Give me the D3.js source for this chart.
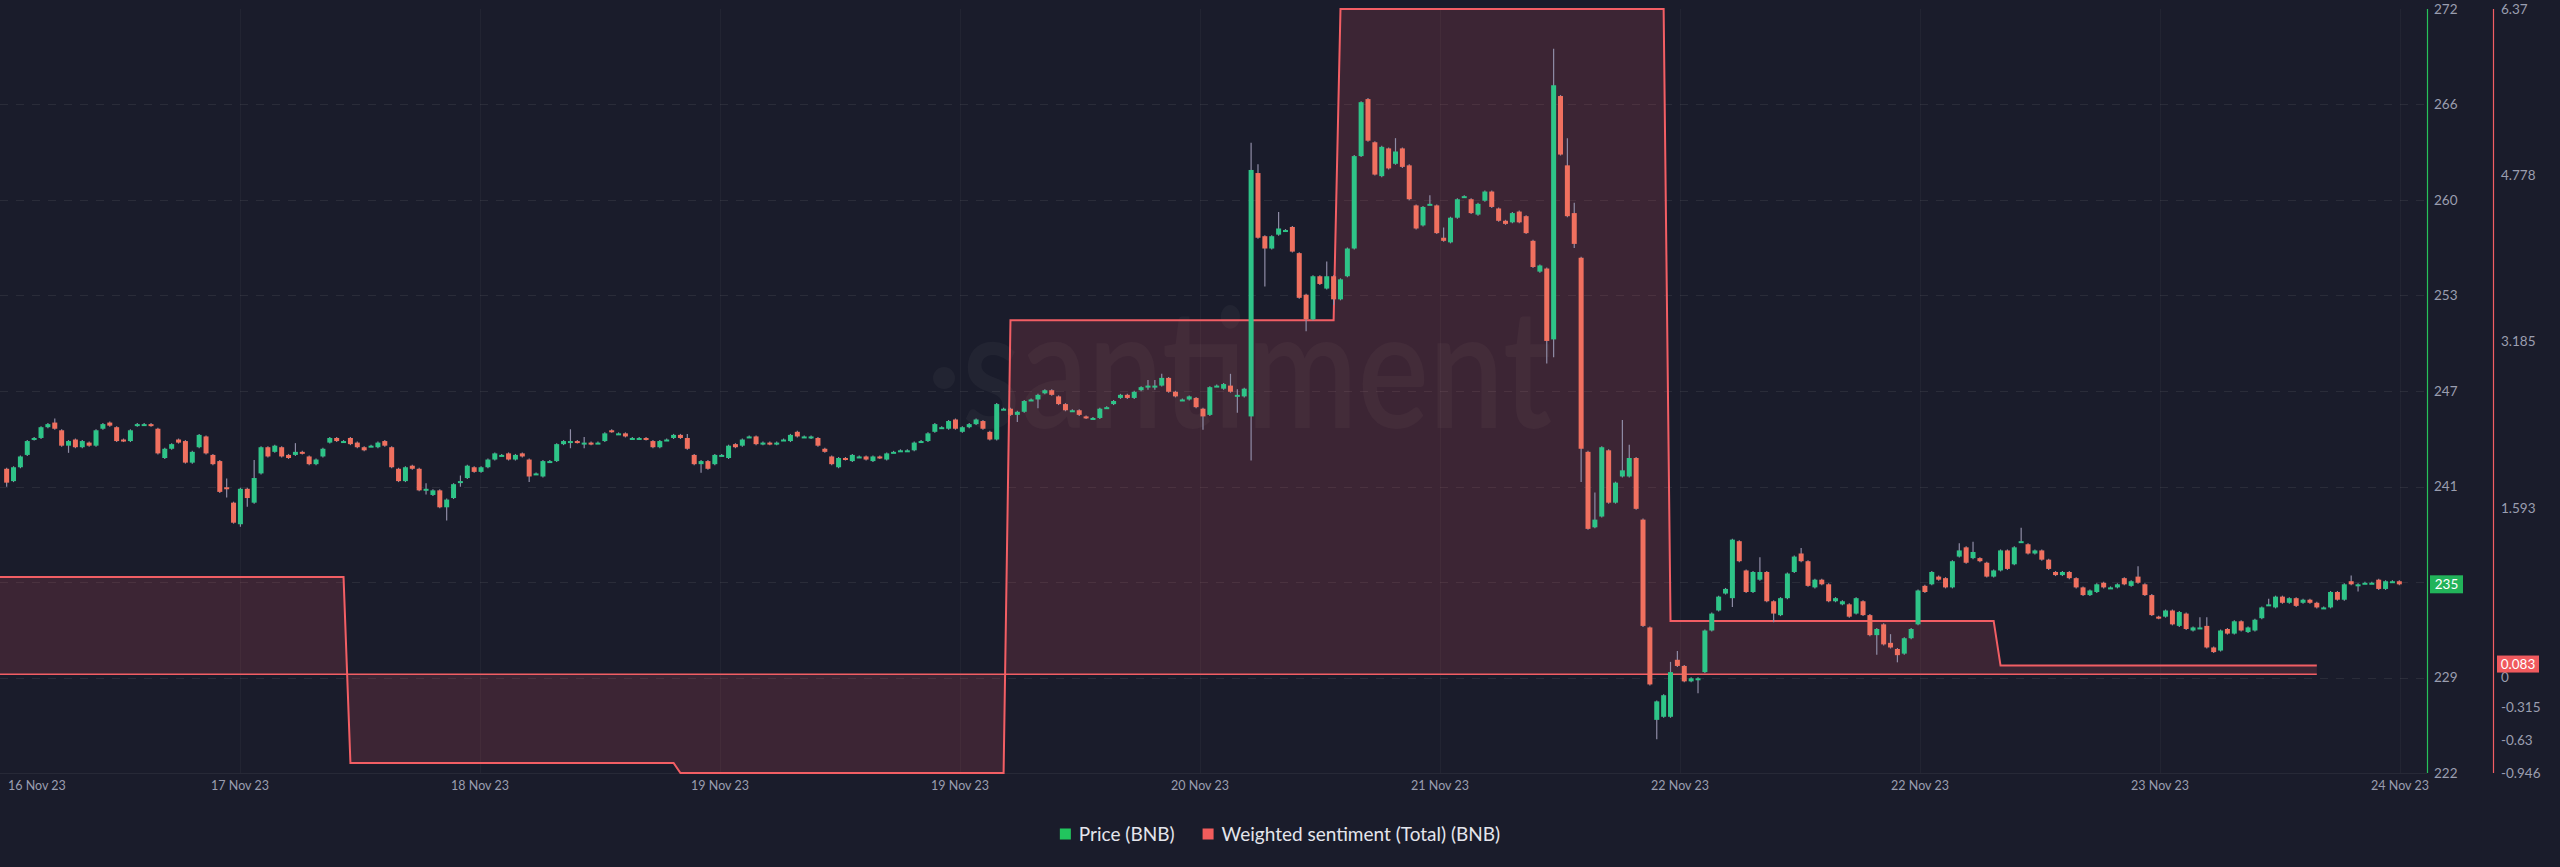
<!DOCTYPE html>
<html><head><meta charset="utf-8">
<script src="https://cdn.jsdelivr.net/npm/d3@7"></script>
<style>
html,body{margin:0;padding:0;background:#1a1c2b;}
svg{display:block;font-family:Lato,"Open Sans",sans-serif;}
</style></head><body>
<svg id="chart" width="2560" height="867"></svg>
<script>
// ---------- DATA ----------
const firstCandle = "2023-11-16T23:30:00Z";   // 30-minute candles
const candleMinutes = 30;
const opens = [
242.1,241.3,242.2,243.0,244.0,244.1,244.8,245.1,244.6,243.6,244.0,243.5,243.8,243.6,244.7,245.1,244.8,244.0,243.9,244.9,
245.0,245.0,244.7,242.8,243.4,244.0,243.9,242.5,243.5,244.2,243.0,242.6,240.9,239.9,238.5,240.8,239.9,241.8,243.5,243.2,
243.5,243.0,243.0,243.2,242.9,242.4,242.9,243.8,244.1,243.9,244.1,243.8,243.5,243.6,243.5,243.9,243.5,242.1,241.3,242.3,
242.1,240.8,240.4,240.7,239.6,240.2,241.3,241.5,242.2,241.9,242.2,242.7,243.0,243.1,242.7,243.1,242.7,241.8,241.6,242.6,
242.6,243.7,243.9,243.9,243.8,243.8,243.8,243.9,244.6,244.4,244.4,244.1,244.1,244.1,243.9,243.5,244.0,244.1,244.3,244.1,
243.0,242.4,242.6,242.4,243.0,242.8,243.7,243.6,244.2,244.2,243.7,243.8,243.7,244.0,243.9,244.5,244.2,244.1,244.1,243.4,
242.9,242.2,242.8,242.6,242.9,242.9,242.6,242.9,242.7,243.2,243.3,243.3,243.3,243.9,243.9,244.5,244.8,244.7,245.3,244.5,
244.8,245.0,245.2,244.5,244.0,246.0,246.0,245.6,245.8,246.6,246.6,247.0,247.2,246.8,246.3,245.9,245.9,245.5,245.4,245.4,
246.1,246.3,246.7,246.9,246.7,247.2,247.5,247.5,247.5,248.0,247.1,246.6,246.6,246.7,246.0,245.6,247.5,247.3,247.5,246.9,
246.8,245.5,261.3,257.2,256.4,257.3,257.6,257.8,256.1,253.4,251.8,254.6,253.8,254.6,253.1,254.6,256.4,262.4,266.1,263.3,
261.1,262.9,261.9,262.9,261.8,259.2,257.9,259.3,259.2,257.1,256.8,258.4,259.8,259.6,258.6,259.5,260.1,259.0,258.2,258.1,
258.8,258.5,256.9,254.9,255.1,250.5,266.3,261.8,258.7,255.8,243.2,238.3,239.0,243.3,239.9,241.6,241.6,242.8,238.8,231.8,
225.8,226.0,226.0,229.7,229.3,228.3,228.5,228.9,231.6,232.9,234.0,233.7,237.4,235.5,234.1,234.9,235.4,233.5,232.6,233.7,
235.4,236.6,236.1,234.4,234.9,234.6,233.5,233.3,233.3,232.7,233.5,232.6,231.3,232.0,230.8,230.4,230.1,231.1,232.0,234.5,
234.6,235.1,235.0,234.4,236.4,237.0,236.3,236.3,236.0,235.1,235.5,236.8,235.9,237.4,237.2,236.6,236.8,236.2,235.4,235.2,
235.4,235.0,234.4,233.9,234.1,234.7,234.4,234.4,235.0,234.5,235.1,234.6,233.9,232.5,232.5,232.9,231.9,232.7,231.6,231.8,
231.9,230.5,230.3,231.7,231.4,232.2,231.5,231.6,232.4,233.3,233.1,233.8,233.4,233.7,233.4,233.6,233.4,233.1,233.1,234.1,
233.6,234.8,234.6,234.7,234.7,234.9,234.3,234.8,234.8
];
const closes = [
241.2,242.2,242.9,243.9,244.1,244.8,245.0,244.7,243.6,243.9,243.5,243.9,243.6,244.6,245.0,244.9,243.9,243.9,244.6,245.0,
245.0,244.9,243.1,243.4,243.7,243.8,242.5,243.2,244.3,243.1,242.4,240.6,240.8,238.6,240.8,240.2,241.5,243.5,242.9,243.6,
242.9,242.8,243.2,243.1,242.4,242.7,243.4,244.1,243.9,243.9,243.7,243.5,243.3,243.6,243.8,243.6,242.2,241.3,242.2,242.1,
240.7,240.8,240.7,239.6,240.1,241.1,241.3,242.3,241.9,242.2,242.7,243.1,243.0,242.7,243.0,242.9,241.6,241.8,242.6,242.6,
243.7,243.9,243.9,243.8,243.8,243.7,243.8,244.4,244.5,244.4,244.2,244.1,244.1,244.0,243.5,243.9,244.0,244.3,244.1,243.4,
242.4,242.6,242.1,243.0,243.0,243.6,243.5,244.0,244.2,243.7,243.8,243.7,243.8,244.0,244.3,244.2,244.2,244.2,243.6,243.2,
242.4,242.8,242.7,243.0,242.9,242.7,242.9,242.8,243.1,243.2,243.3,243.3,243.8,243.9,244.4,245.0,244.8,245.2,244.7,244.8,
245.0,245.3,244.7,244.0,246.3,246.0,245.6,245.8,246.5,246.6,246.9,247.2,246.9,246.3,245.9,245.9,245.6,245.4,245.4,246.0,
246.1,246.5,246.9,246.7,247.1,247.4,247.5,247.5,248.0,247.1,246.8,246.6,246.8,246.1,245.5,247.4,247.5,247.6,247.1,246.9,
247.3,261.5,257.1,256.4,257.2,257.7,257.6,256.2,253.2,251.8,254.6,254.1,254.6,253.1,254.4,256.4,262.4,265.9,263.4,261.2,
263.0,261.6,262.7,261.7,259.6,257.7,259.1,259.3,257.4,256.9,258.4,259.6,259.8,258.7,259.3,260.1,259.1,258.2,258.0,258.7,
258.1,257.4,255.2,255.3,250.4,267.0,262.5,258.5,256.7,243.4,238.2,238.8,243.5,239.9,241.2,242.0,242.8,239.5,231.9,228.1,
227.0,227.4,228.9,229.3,228.3,228.5,228.5,231.6,232.7,233.8,234.3,237.5,236.1,234.1,235.4,235.4,233.5,232.7,233.7,235.3,
236.4,236.1,234.5,234.9,234.6,233.5,233.7,233.5,232.5,233.7,232.6,231.3,231.7,230.7,230.5,230.0,231.1,231.7,234.2,234.1,
235.4,234.9,234.4,236.1,236.8,236.0,236.7,236.1,235.1,235.5,236.8,235.6,237.0,237.4,236.6,236.8,236.2,235.6,235.2,235.4,
235.0,234.4,233.9,234.2,234.6,234.4,234.4,234.6,234.6,234.8,234.7,233.9,232.6,232.4,232.9,232.0,232.8,231.7,231.8,231.8,
230.5,230.2,231.6,231.4,232.2,231.6,231.8,232.3,233.1,233.3,233.8,233.4,233.7,233.2,233.6,233.4,233.1,233.1,234.1,233.6,
234.6,234.6,234.6,234.7,234.7,234.3,234.8,234.8,234.6
];
// visible wicks: [candle index, high, low]
const wicks = [
[0,null,241.0],[7,245.3,null],[9,null,243.2],[32,241.4,240.3],[34,null,238.4],[35,null,239.7],[36,242.6,null],
[42,243.7,null],[61,241.1,240.5],[64,null,238.8],[66,241.6,241.0],[76,null,241.3],[82,244.6,243.5],[84,244.1,243.5],
[99,244.3,null],[101,null,241.9],[147,null,245.2],[150,null,246.1],[166,247.8,247.3],[167,247.8,247.3],[168,248.2,null],
[174,null,244.7],[178,248.2,null],[179,247.2,245.8],[181,263.2,242.7],[182,261.8,null],[183,null,254.0],[185,258.7,null],
[189,null,251.1],[192,255.5,null],[193,null,252.8],[202,263.5,null],[207,259.8,null],[209,257.7,null],[224,null,249.0],
[225,269.3,249.4],[227,263.5,null],[228,259.3,256.5],[229,null,241.3],[231,240.5,null],[235,245.2,null],[236,243.6,null],
[240,null,224.6],[242,229.5,null],[243,230.2,null],[246,null,227.6],[251,null,233.2],[255,236.3,null],[257,null,232.2],
[261,236.9,null],[272,null,230.1],[274,231.3,null],[275,null,229.6],[284,237.2,null],[286,237.3,null],[293,238.2,null],
[310,235.7,null],[319,232.4,null],[320,232.4,null],[329,233.6,null],[341,235.1,null],[342,null,234.2]
];
const sentDays = ["2023-11-17","2023-11-18","2023-11-19","2023-11-20","2023-11-21","2023-11-22","2023-11-23"];
const sentValues = [0.93, -0.85, -0.946, 3.39, 6.37, 0.51, 0.083];
const sentEnd = "2023-11-23T23:30:00Z";
const timeDomain = ["2023-11-16T23:01:00Z", "2023-11-24T05:33:00Z"];
const priceDomain = [222.35, 271.95];
const priceTickCount = 9;
const sentTicks = [6.37, 4.778, 3.185, 1.593, 0, -0.315, -0.63, -0.946];
const xTickCount = 11;
const legendItems = ["Price (BNB)", "Weighted sentiment (Total) (BNB)"];

// ---------- STYLE ----------
const GREEN = "#2ec488", RED = "#f0705f", LINE_RED = "#f25e64", AXIS_GREEN = "#27c25a";
const WICK = "#8f8ca6", LABEL = "#9a9eb0";

const svg = d3.select("#chart");
const plotL = 0, plotR = 2427, plotT = 9, plotB = 773, dataR = 2400;

const x = d3.scaleUtc().domain(timeDomain.map(d => new Date(d))).range([0, dataR]);
const y = d3.scaleLinear().domain(priceDomain).range([plotB, plotT]);
const ys = d3.scaleLinear().domain([sentTicks[sentTicks.length-1], sentTicks[0]]).range([plotB, plotT]);

const t0 = new Date(firstCandle).getTime();
const candles = opens.map((o, i) => ({
  t: new Date(t0 + i * candleMinutes * 60000), o, c: closes[i], h: Math.max(o, closes[i]), l: Math.min(o, closes[i])
}));
wicks.forEach(([i, h, l]) => {
  if (h != null) candles[i].h = Math.max(candles[i].h, h);
  if (l != null) candles[i].l = Math.min(candles[i].l, l);
});

// grid
const grid = svg.append("g");
const xTicks = d3.range(xTickCount).map(i => x.invert(i * dataR / (xTickCount - 1)));
grid.selectAll("line.v").data(xTicks.slice(1)).join("line")
  .attr("x1", d => Math.round(x(d)) + 0.5).attr("x2", d => Math.round(x(d)) + 0.5)
  .attr("y1", plotT).attr("y2", plotB).attr("stroke", "rgba(255,255,255,0.035)");
const pTicks = d3.range(priceTickCount).map(i => priceDomain[0] + i * (priceDomain[1] - priceDomain[0]) / (priceTickCount - 1));
grid.selectAll("line.h").data(pTicks.slice(1, -1)).join("line")
  .attr("x1", 0).attr("x2", plotR).attr("y1", d => Math.round(y(d)) + 0.5).attr("y2", d => Math.round(y(d)) + 0.5)
  .attr("stroke", "rgba(255,255,255,0.07)").attr("stroke-dasharray", "8,8");
grid.append("line").attr("x1", 0).attr("x2", plotR).attr("y1", plotB + 0.5).attr("y2", plotB + 0.5)
  .attr("stroke", "rgba(255,255,255,0.06)");

// watermark
const wm = svg.append("g").attr("fill", "rgba(255,255,255,0.035)");
wm.append("circle").attr("cx", 944).attr("cy", 378).attr("r", 11);
wm.append("text").attr("x", 962).attr("y", 428).attr("font-size", 165).attr("font-weight", 600)
  .attr("textLength", 590).attr("lengthAdjust", "spacingAndGlyphs").text("santiment");

// sentiment area
const sPts = [];
sentDays.forEach((d, i) => {
  const t = new Date(d + "T00:00:00Z").getTime();
  const start = i === 0 ? x.domain()[0] : new Date(t + 30 * 60000);
  const end = i === sentDays.length - 1 ? new Date(sentEnd) : new Date(t + 24 * 3600000);
  sPts.push({ t: start, v: sentValues[i] }, { t: end, v: sentValues[i] });
});
svg.append("path").datum(sPts)
  .attr("d", d3.area().x(d => x(d.t)).y0(ys(0)).y1(d => ys(d.v)))
  .attr("fill", "rgba(240,90,100,0.16)");
svg.append("line").attr("x1", x(sPts[0].t)).attr("x2", x(sPts[sPts.length-1].t))
  .attr("y1", ys(0)).attr("y2", ys(0)).attr("stroke", LINE_RED).attr("stroke-width", 1.5);
svg.append("path").datum(sPts)
  .attr("d", d3.line().x(d => x(d.t)).y(d => ys(d.v)))
  .attr("fill", "none").attr("stroke", LINE_RED).attr("stroke-width", 2);

// candles
const cw = 5;
const cg = svg.append("g");
cg.selectAll("line.w").data(candles).join("line")
  .attr("x1", d => x(d.t)).attr("x2", d => x(d.t))
  .attr("y1", d => y(d.h) - 1).attr("y2", d => y(d.l) + 1)
  .attr("stroke", WICK).attr("stroke-width", 1.2);
cg.selectAll("rect").data(candles).join("rect")
  .attr("x", d => x(d.t) - cw / 2)
  .attr("y", d => Math.min(y(d.o), y(d.c)))
  .attr("width", cw)
  .attr("height", d => Math.max(2, Math.abs(y(d.o) - y(d.c))))
  .attr("fill", d => d.c >= d.o ? GREEN : RED);

// axes lines
svg.append("line").attr("x1", plotR + 0.5).attr("x2", plotR + 0.5).attr("y1", plotT).attr("y2", plotB)
  .attr("stroke", AXIS_GREEN).attr("stroke-width", 1.2);
svg.append("line").attr("x1", 2493.5).attr("x2", 2493.5).attr("y1", plotT).attr("y2", plotB)
  .attr("stroke", LINE_RED).attr("stroke-width", 1.2);

// price axis labels
svg.append("g").selectAll("text").data(pTicks).join("text")
  .attr("x", 2434).attr("y", d => y(d)).attr("dy", "0.35em")
  .attr("fill", LABEL).attr("font-size", 13.5).text(d => d3.format(".0f")(d));
// sentiment axis labels
svg.append("g").selectAll("text").data(sentTicks).join("text")
  .attr("x", 2501).attr("y", d => ys(d) + (d === 0 ? 3 : 0)).attr("dy", "0.35em")
  .attr("fill", LABEL).attr("font-size", 13.5).text(d => String(d));

// x axis labels
const fmt = d3.utcFormat("%-d %b %y");
svg.append("g").selectAll("text").data(xTicks).join("text")
  .attr("x", (d, i) => i === 0 ? 8 : x(d))
  .attr("y", 790)
  .attr("text-anchor", (d, i) => i === 0 ? "start" : "middle")
  .attr("fill", LABEL).attr("font-size", 12.5).text(d => fmt(d));

// last value badges
const lastC = candles[candles.length - 1].c;
const pb = svg.append("g").attr("transform", `translate(2430,${y(lastC)})`);
pb.append("rect").attr("x", 0).attr("y", -9).attr("width", 33).attr("height", 18).attr("fill", "#22b35a");
pb.append("text").attr("x", 16.5).attr("y", 0).attr("dy", "0.36em").attr("text-anchor", "middle")
  .attr("fill", "#fff").attr("font-size", 13.5).text(d3.format(".0f")(lastC));
const lastS = sentValues[sentValues.length - 1];
const sb = svg.append("g").attr("transform", `translate(2497,${ys(lastS) - 1})`);
sb.append("rect").attr("x", 0).attr("y", -9).attr("width", 42).attr("height", 17).attr("fill", "#f05a5e");
sb.append("text").attr("x", 21).attr("y", 0).attr("dy", "0.33em").attr("text-anchor", "middle")
  .attr("fill", "#fff").attr("font-size", 13.5).text(String(lastS));

// legend, centred under the chart
const lg = svg.append("g");
const legColors = ["#22c55e", "#f25c5c"];
let cx = 0;
const items = legendItems.map((t, i) => {
  const g = lg.append("g");
  g.append("rect").attr("x", 0).attr("y", -5.5).attr("width", 11).attr("height", 11).attr("fill", legColors[i]);
  const tx = g.append("text").attr("x", 19).attr("y", 0).attr("dy", "0.35em")
    .attr("fill", "#e4e5ec").attr("font-size", 19).text(t);
  const w = 19 + tx.node().getComputedTextLength();
  g.attr("transform", `translate(${cx},834)`);
  cx += w + 28;
  return g;
});
const totalW = cx - 28;
lg.attr("transform", `translate(${1280 - totalW / 2},0)`);
</script>
</body></html>
